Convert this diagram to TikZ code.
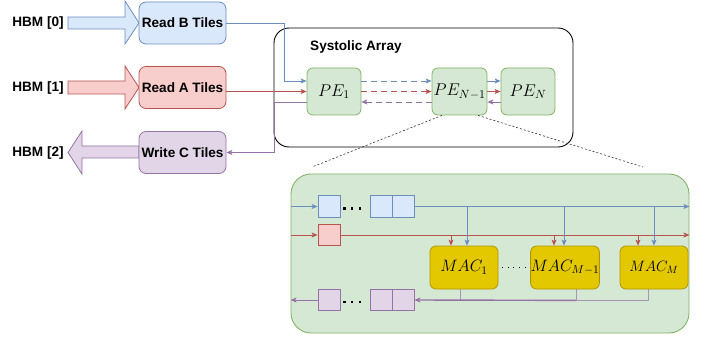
\RequirePackage{fix-cm}
\documentclass[tikz,border=0pt]{standalone}
\usepackage{fontspec}
\setsansfont{Liberation Sans}
\usetikzlibrary{arrows.meta,calc}
\definecolor{bluef}{HTML}{DAE8FC}\definecolor{blued}{HTML}{6C8EBF}
\definecolor{redf}{HTML}{F8CECC}\definecolor{redd}{HTML}{B85450}
\definecolor{purf}{HTML}{E1D5E7}\definecolor{purd}{HTML}{9673A6}
\definecolor{grnf}{HTML}{D5E8D4}\definecolor{grnd}{HTML}{82B366}
\definecolor{macf}{HTML}{E3C800}\definecolor{macd}{HTML}{B09500}
\begin{document}
\begin{tikzpicture}[x=1pt,y=-1pt,
  lab/.style={font=\sffamily\bfseries\fontsize{13.6}{16}\selectfont, inner sep=0pt},
  tilebox/.style={draw, rounded corners=7pt, minimum width=87pt, minimum height=42pt, inner sep=0pt, line width=0.8pt, font=\sffamily\bfseries\fontsize{13.6}{16}\selectfont},
  pebox/.style={draw=grnd, fill=grnf, rounded corners=6pt, minimum width=54pt, minimum height=47pt, inner sep=0pt, line width=0.8pt, font=\fontsize{17}{19}\selectfont},
  macbox/.style={draw=macd, fill=macf, rounded corners=6pt, minimum width=68pt, minimum height=43pt, inner sep=0pt, line width=0.8pt, font=\fontsize{16.5}{19}\selectfont},
  sq/.style={draw, minimum width=22pt, minimum height=21.5pt, inner sep=0pt, line width=0.8pt},
  tip/.style={-{Stealth[length=6pt,width=5pt,inset=1.5pt]}},
  bl/.style={draw=blued, line width=0.8pt},
  rd/.style={draw=redd, line width=0.8pt},
  pu/.style={draw=purd, line width=0.8pt},
  dsh/.style={dash pattern=on 6pt off 4pt},
  dotl/.style={draw=black!80, line width=0.6pt, dash pattern=on 2pt off 2pt},
  bigdots/.style={draw=black, line width=2.2pt, dash pattern=on 2.2pt off 5.6pt},
  smalldots/.style={draw=black, line width=1pt, dash pattern=on 1pt off 4.7pt}
]
\useasboundingbox (0,0) rectangle (706,339);

% block arrows
\filldraw[fill=bluef, draw=blued, line width=0.8pt] (68,17) -- (125,17) -- (125,1) -- (139,23) -- (125,44) -- (125,29) -- (68,29) -- cycle;
\filldraw[fill=redf, draw=redd, line width=0.8pt] (68,81) -- (125,81) -- (125,66) -- (139,87.5) -- (125,109) -- (125,94) -- (68,94) -- cycle;
\filldraw[fill=purf, draw=purd, line width=0.8pt] (139,146) -- (82,146) -- (82,131) -- (68,152.5) -- (82,174) -- (82,158) -- (139,158) -- cycle;

\node[lab] (h0) at (38,23) {HBM [0]};
\node[lab] (h1) at (38,87.5) {HBM [1]};
\node[lab] (h2) at (38,152.5) {HBM [2]};

\node[tilebox, fill=bluef, draw=blued] (rb) at (182.5,23) {Read B Tiles};
\node[tilebox, fill=redf, draw=redd] (ra) at (182.5,87.5) {Read A Tiles};
\node[tilebox, fill=purf, draw=purd] (wc) at (182.5,152.5) {Write C Tiles};

% systolic array
\node[draw=black, line width=0.9pt, rounded corners=15pt, minimum width=299pt, minimum height=119pt] (sa) at (423.5,87.5) {};
\node[lab, anchor=west] (satitle) at (310,47) {Systolic Array};

\node[pebox] (pe1) at (334,91.5) {$PE_1$};
\node[pebox, minimum width=55pt] (pen1) at (459.5,91.5) {$PE_{N-1}$};
\node[pebox] (pen) at (528,91.5) {$PE_N$};

\draw[bl,tip] (rb.east) -- ++(58,0) |- ([yshift=10.5pt]pe1.west);
\draw[rd,tip] (ra.east |- pe1.west) -- (pe1.west);
\draw[pu,tip] ([yshift=-10.5pt]pe1.west) -- ++(-32,0) |- (wc.east);

\draw[bl,dsh,tip] ([yshift=10.5pt]pe1.east) -- ([yshift=10.5pt]pen1.west);
\draw[rd,dsh,tip] (pe1.east) -- (pen1.west);
\draw[pu,dsh,tip] ([yshift=-10.5pt]pen1.west) -- ([yshift=-10.5pt]pe1.east);

\draw[bl,tip] ([yshift=10.5pt]pen1.east) -- ([yshift=10.5pt]pen.west);
\draw[rd,tip] (pen1.east) -- (pen.west);
\draw[pu,tip] ([yshift=-10.5pt]pen.west) -- ([yshift=-10.5pt]pen1.east);

% zoom lines
\coordinate (dl) at (312,167);
\coordinate (dr) at (643,167);
\draw[dotl] ([xshift=-17.5pt]pen1.south) -- (dl);
\draw[dotl] ([xshift=18.5pt]pen1.south) -- (dr);

% detail box
\node[draw=grnd, fill=grnf, line width=0.9pt, rounded corners=20pt, minimum width=398pt, minimum height=159pt] (big) at (490,253.5) {};

\node[sq, fill=bluef, draw=blued] (b1) at (329,206.5) {};
\node[sq, fill=bluef, draw=blued] (b2) at (381,206.5) {};
\node[sq, fill=bluef, draw=blued] (b3) at (403,206.5) {};
\node[sq, fill=redf, draw=redd] (r1) at (329,235) {};
\node[sq, fill=purf, draw=purd] (p1) at (329,300) {};
\node[sq, fill=purf, draw=purd] (p2) at (381,300) {};
\node[sq, fill=purf, draw=purd] (p3) at (403,300) {};

\node[macbox] (mac1) at (464,267.5) {$MAC_1$};
\node[macbox] (macm1) at (565,267.5) {$MAC_{M-1}$};
\node[macbox, font=\fontsize{15}{17}\selectfont] (macm) at (654,267.5) {$MAC_M$};

\draw[bigdots, shorten <=3pt, shorten >=3pt] ([yshift=-2pt]b1.east) -- ([yshift=-2pt]b2.west);
\draw[bigdots, shorten <=3pt, shorten >=3pt] ([yshift=-2pt]p1.east) -- ([yshift=-2pt]p2.west);
\draw[smalldots, shorten <=3.5pt, shorten >=5pt] (mac1.east) -- (macm1.west);

\draw[bl,tip] (b1 -| big.west) -- (b1.west);
\draw[bl,tip] (b3.east) -- (b3 -| big.east);
\draw[rd,tip] (r1 -| big.west) -- (r1.west);
\draw[rd,tip] (r1.east) -- (r1 -| big.east);
\draw[pu,tip] (p1.west) -- (p1 -| big.west);

\draw[bl,tip] ($(mac1.north)+(3,-39.5)$) -- ([xshift=3pt]mac1.north);
\draw[bl,tip] ($(macm1.north)+(-1,-39.5)$) -- ([xshift=-1pt]macm1.north);
\draw[bl,tip] ($(macm.north)+(0,-39.5)$) -- (macm.north);
\draw[rd,tip] ($(mac1.north)+(-13,-11)$) -- ([xshift=-13pt]mac1.north);
\draw[rd,tip] ($(macm1.north)+(-11,-11)$) -- ([xshift=-11pt]macm1.north);
\draw[rd,tip] ($(macm.north)+(-16,-11)$) -- ([xshift=-16pt]macm.north);

\draw[pu, draw opacity=0.7] ([xshift=-4pt]mac1.south) -- ++(0,11);
\draw[pu, draw opacity=0.7] ([xshift=11pt]macm1.south) -- ++(0,11);
\draw[pu, draw opacity=0.7] ([xshift=-6pt]macm.south) -- ++(0,11) -- ($(macm1.south)+(11,11)$);
\draw[pu, line width=1.4pt, tip] ($(macm1.south)+(11,11)$) -- (p3.east);
\end{tikzpicture}
\end{document}
